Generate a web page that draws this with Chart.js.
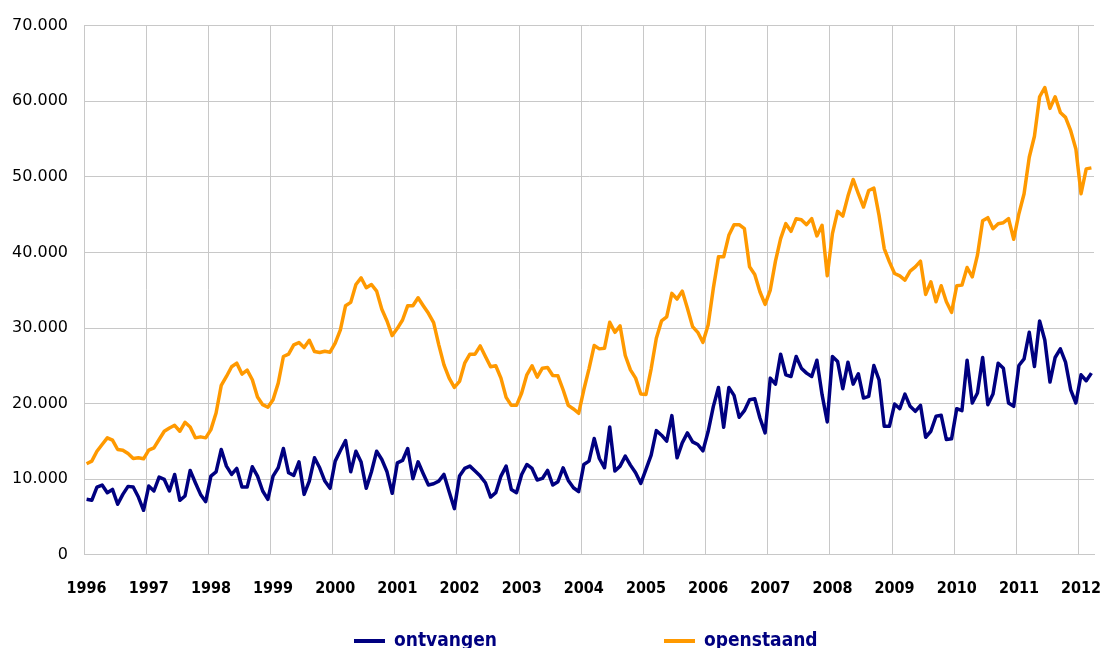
<!DOCTYPE html>
<html>
<head>
  <meta charset="utf-8">
  <title>Ontvangen en openstaand</title>
  <script src="https://cdn.jsdelivr.net/npm/chart.js"></script>
  <style>
    body {
      margin: 0;
      background: #fff;
      overflow: hidden;
    }
    #wrap {
      position: relative;
      width: 1104px;
      height: 648px;
      overflow: hidden;
    }
    .legend {
      position: absolute;
      top: 627px;
      font-family: 'DejaVu Sans Condensed', 'DejaVu Sans', sans-serif;
      font-weight: bold;
      font-size: 19px;
      color: #000080;
      white-space: nowrap;
      line-height: 24px;
    }
    .legend i {
      display: inline-block;
      width: 31px;
      height: 4px;
      margin-right: 9px;
      vertical-align: middle;
    }
  </style>
</head>
<body>
<div id="wrap">
  <canvas id="chart" width="1104" height="648"></canvas>
  <div class="legend" style="left:354px"><i style="background:#000080"></i>ontvangen</div>
  <div class="legend" style="left:664px"><i style="background:#ff9900"></i>openstaand</div>
</div>

<script>
  // tick labels on the x axis (one per January)
  const years = ['1996', '1997', '1998', '1999', '2000', '2001', '2002', '2003', '2004',
                 '2005', '2006', '2007', '2008', '2009', '2010', '2011', '2012'];

  // monthly values, jan 1996 - mrt 2012
  const ontvangen = [
    7340, 7210, 8960, 9230, 8220, 8650, 6680, 7990, 9050, 8960, 7640, 5890,
    9090, 8440, 10280, 9970, 8440, 10630, 7210, 7780, 11160, 9530, 7990, 7030,
    10410, 10980, 13930, 11730, 10630, 11420, 8960, 8960, 11640, 10410, 8440, 7340,
    10410, 11510, 14060, 10850, 10500, 12300, 7990, 9750, 12830, 11510, 9750, 8790,
    12390, 13790, 15110, 10980, 13700, 12260, 8790, 10980, 13700, 12610, 10980, 8130,
    12170, 12480, 14060, 10060, 12300, 10720, 9230, 9400, 9750, 10630, 8350, 6110,
    10410, 11420, 11730, 11070, 10410, 9530, 7640, 8220, 10410, 11730, 8650, 8220,
    10630, 11950, 11420, 9890, 10100, 11160, 9230, 9670, 11510, 9840, 8870, 8350,
    11950, 12390, 15380, 12740, 11510, 16910, 11070, 11730, 13050, 11860, 10850, 9450,
    11290, 13180, 16430, 15820, 15030, 18410, 12830, 14810, 16120, 14940, 14590, 13750,
    16300, 19600, 22140, 16870, 22140, 21090, 18190, 19070, 20520, 20650, 18100, 16120,
    23370, 22580, 26540, 23810, 23590, 26230, 24690, 24030, 23590, 25740, 21180, 17570,
    26230, 25570, 21970, 25480, 22580, 23950, 20730, 20960, 25040, 23150, 17000, 17000,
    19940, 19330, 21260, 19640, 18980, 19770, 15550, 16340, 18320, 18450, 15250, 15340,
    19330, 19070, 25740, 20080, 21400, 26100, 19860, 21260, 25350, 24690, 20080, 19640,
    25040, 25920, 29440, 24910, 30930, 28420, 22850, 26100, 27240, 25480, 21830, 20080,
    23810, 23020, 24030
  ];

  const openstaand = [
    12040, 12390, 13700, 14590, 15470, 15160, 13930, 13840, 13400, 12740, 12830, 12700,
    13840, 14150, 15250, 16340, 16780, 17130, 16340, 17530, 16910, 15470, 15600, 15470,
    16560, 18760, 22410, 23590, 24870, 25350, 23900, 24430, 23150, 20870, 19860, 19510,
    20520, 22710, 26230, 26540, 27770, 28070, 27410, 28380, 26890, 26760, 26930, 26800,
    27990, 29740, 32950, 33390, 35760, 36640, 35320, 35760, 34880, 32470, 30930, 29000,
    29960, 31060, 32950, 32950, 34000, 32950, 31940, 30710, 27770, 25130, 23370, 22140,
    22930, 25350, 26540, 26540, 27630, 26230, 24870, 25000, 23370, 20820, 19770, 19770,
    21400, 23810, 25000, 23500, 24690, 24780, 23720, 23680, 21830, 19770, 19290, 18720,
    21830, 24600, 27680, 27240, 27330, 30750, 29430, 30270, 26360, 24470, 23370, 21260,
    21210, 24600, 28640, 30930, 31460, 34580, 33830, 34880, 32600, 30180, 29430, 28100,
    30400, 35240, 39410, 39410, 42260, 43670, 43670, 43140, 38090, 37080, 34800, 33130,
    35020, 38840, 41820, 43800, 42790, 44460, 44330, 43670, 44460, 42180, 43580, 36900,
    42480, 45430, 44810, 47450, 49650, 47760, 46000, 48190, 48500, 44900, 40510, 38750,
    37210, 36900, 36330, 37520, 38090, 38840, 34440, 36110, 33480, 35590, 33480, 32070,
    35590, 35670, 38000, 36770, 39630, 44200, 44590, 43140, 43800, 43930, 44460, 41740,
    45120, 47760, 52590, 55360, 60590, 61810, 59050, 60590, 58520, 57860, 56100, 53690,
    47760, 51050, 51180
  ];

  const toPoints = arr => arr.map((v, i) => ({ x: i, y: v }));
  const fmt = v => String(v).replace(/\B(?=(\d{3})+(?!\d))/g, '.');
  const gridColor = '#c8c8c8';

  new Chart(document.getElementById('chart'), {
    type: 'line',
    data: {
      datasets: [
        {
          label: 'ontvangen',
          data: toPoints(ontvangen),
          borderColor: '#000080',
          borderWidth: 3.5,
          pointRadius: 0,
          tension: 0,
          borderJoinStyle: 'round'
        },
        {
          label: 'openstaand',
          data: toPoints(openstaand),
          borderColor: '#ff9900',
          borderWidth: 3.5,
          pointRadius: 0,
          tension: 0,
          borderJoinStyle: 'round'
        }
      ]
    },
    options: {
      responsive: false,
      animation: false,
      layout: { padding: { left: 0, right: 10, top: 23, bottom: 26 } },
      plugins: {
        legend: { display: false },
        tooltip: { enabled: false }
      },
      scales: {
        x: {
          type: 'linear',
          min: -0.5,
          max: ontvangen.length - 0.5,
          afterBuildTicks: scale => {
            scale.ticks = years.map((y, k) => ({ value: k * 12 - 0.5 }));
          },
          // the year labels may hang over the plot edges
          afterFit: scale => {
            scale.paddingLeft = 0;
            scale.paddingRight = 0;
          },
          grid: { color: gridColor, lineWidth: 1, drawTicks: false },
          border: { color: gridColor },
          ticks: {
            autoSkip: false,
            maxRotation: 0,
            padding: 24,
            labelOffset: 2.6,
            color: '#000',
            font: { family: "'DejaVu Sans Condensed', 'DejaVu Sans'", size: 16, weight: 'bold' },
            callback: (v, i) => years[i]
          }
        },
        y: {
          min: 0,
          max: 70000,
          afterFit: scale => { scale.width = 84; },
          grid: { color: gridColor, lineWidth: 1, drawTicks: false },
          border: { color: gridColor },
          ticks: {
            stepSize: 10000,
            padding: 16,
            color: '#000',
            font: { family: "'DejaVu Sans'", size: 16 },
            callback: v => fmt(v)
          }
        }
      }
    }
  });
</script>
</body>
</html>
